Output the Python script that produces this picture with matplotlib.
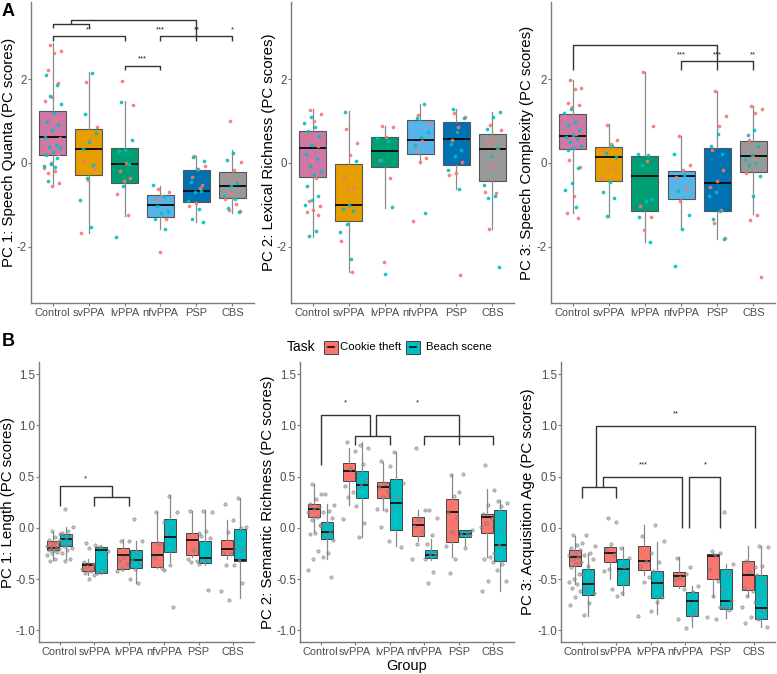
import numpy as np
import matplotlib
matplotlib.use('Agg')
import matplotlib.pyplot as plt
from matplotlib.patches import Rectangle

plt.rcParams['font.family'] = ['Liberation Sans', 'DejaVu Sans']

# ---------------- data ----------------
groups = ['Control', 'svPPA', 'lvPPA', 'nfvPPA', 'PSP', 'CBS']
group_colors = ['#CC79A7', '#E69F00', '#009E73', '#56B4E9', '#0072B2', '#999999']
tasks = ['Cookie theft', 'Beach scene']
task_colors = ['#F8766D', '#00BFC4']

# Row A box stats per group: (whislo, q1, med, q3, whishi)
a1_box = [(-0.56, 0.18, 0.62, 1.25, 2.86), (-1.67, -0.30, 0.34, 0.81, 2.18),
          (-1.27, -0.48, -0.02, 0.36, 1.47), (-1.57, -1.29, -1.00, -0.76, -0.54),
          (-1.41, -0.93, -0.68, -0.17, 0.16), (-1.19, -0.83, -0.55, -0.22, 0.30)]
a1_cookie = [[2.82, 2.67, 2.63, 2.22, 1.91, 1.57, 1.47, 1.05, 0.75, 0.59, 0.45, 0.30, 0.21, 0.0, -0.13, -0.20, -0.24, -0.48, -0.56],
             [1.94, 0.85, 0.55, 0.05, -0.14, -0.41, -1.67],
             [1.95, 1.38, 0.0, -0.20, -0.35, -0.44, -0.75, -1.25],
             [-0.63, -0.70, -0.79, -0.86, -1.35, -2.14],
             [0.17, -0.07, -0.14, -0.33, -0.52, -0.95, -1.03, -0.60],
             [1.01, 0.02, -0.16, -0.32, -0.44, -0.75, -0.86, -0.97, -1.13, -1.15]]
a1_beach = [[2.10, 1.86, 1.61, 1.41, 1.20, 0.99, 0.91, 0.79, 0.63, 0.43, 0.39, 0.36, 0.25, 0.20, 0.12, -0.02, -0.08, -0.10, -0.44],
            [2.16, 1.17, 0.71, 0.51, 0.33, -0.05, -0.35, -0.89, -1.53],
            [1.46, 0.54, 0.32, 0.28, -0.02, -0.56, -1.76],
            [-0.53, -0.78, -1.02, -1.14, -1.20, -1.35, -1.59],
            [0.14, 0.04, -0.14, -0.45, -0.67, -0.70, -0.92, -1.11, -1.35, -1.41],
            [0.24, 0.08, -0.48, -0.56, -0.79, -0.86, -1.07, -1.17]]

a2_box = [(-1.76, -0.33, 0.36, 0.77, 1.29), (-2.62, -1.39, -1.01, -0.03, 1.25),
          (-1.07, -0.09, 0.29, 0.62, 0.89), (0.00, 0.21, 0.54, 1.02, 1.40),
          (-0.63, -0.06, 0.57, 0.97, 1.29), (-1.59, -0.44, 0.33, 0.69, 1.23)]
a2_cookie = [[1.27, 1.17, 1.0, 0.62, 0.40, 0.04, -0.15, -0.35, -0.92, -1.03, -1.12, -1.18, -1.24],
             [0.81, 0.48, 0.20, -0.33, -0.59, -0.63, -1.86, -2.62],
             [0.89, 0.87, 0.63, 0.08, -0.37, -2.36],
             [1.15, 0.95, 0.52, 0.33, 0.12, 0.02, -1.39],
             [1.19, 1.10, 0.87, 0.56, 0.02, -0.24, -0.29, -2.67],
             [0.90, 0.78, 0.56, 0.48, 0.32, -0.04, -0.70, -0.73, -1.57]]
a2_beach = [[1.10, 0.95, 0.85, 0.77, 0.65, 0.43, 0.21, 0.10, -0.08, -0.20, -0.30, -0.56, -0.78, -0.88, -1.0, -1.62, -1.74],
            [1.23, 0.05, -1.01, -1.10, -1.15, -1.47, -1.65, -2.30],
            [0.60, 0.52, 0.06, -1.06, -2.66],
            [1.40, 1.07, 0.73, 0.63, 0.42, -1.19],
            [1.29, 1.07, 0.73, 0.46, 0.30, 0.17, -0.17, -0.62],
            [1.23, 1.11, 0.81, 0.36, 0.16, -0.52, -0.79, -0.83, -2.48]]

a3_box = [(-1.20, 0.33, 0.65, 1.17, 1.98), (-1.29, -0.44, 0.15, 0.38, 0.94),
          (-1.90, -1.14, -0.31, 0.16, 2.18), (-1.57, -0.86, -0.32, -0.19, 0.65),
          (-1.83, -1.15, -0.47, 0.36, 1.71), (-1.23, -0.21, 0.17, 0.52, 1.37)]
a3_cookie = [[1.98, 1.80, 1.76, 1.43, 1.38, 1.35, 1.10, 0.70, 0.06, -0.10, -0.79, -1.19, -1.31],
             [0.91, 0.54, 0.46, 0.30, -0.13, -0.16, -0.36],
             [2.17, 0.89, 0.04, -1.03, -1.29, -1.60],
             [0.65, -0.04, -0.16, -0.33, -0.60, -0.91],
             [1.71, 1.13, 0.89, 0.32, -0.18, -0.44, -0.57, -1.13, -1.44, -1.79],
             [1.37, 1.29, 1.19, 0.55, 0.30, 0.15, -0.25, -1.25, -1.37, -2.74]]
a3_beach = [[1.28, 1.20, 0.99, 0.90, 0.80, 0.67, 0.62, 0.58, 0.50, 0.40, 0.36, 0.30, -0.12, -0.48, -0.65, -1.05],
            [0.40, 0.24, 0.15, -0.46, -0.69, -0.83, -1.27],
            [0.21, 0.19, -0.06, -0.87, -0.91, -1.29, -1.89],
            [0.22, -0.30, -0.67, -1.25, -1.57, -2.46],
            [0.70, 0.40, 0.22, -0.69, -0.79, -1.15, -1.35, -1.83],
            [0.79, 0.67, 0.40, 0.20, 0.10, 0.0, -0.04, -0.32, -0.79]]

# Row B box stats per group and task: (whislo, q1, med, q3, whishi)
b1_box_cookie = [(-0.31, -0.22, -0.20, -0.13, -0.04), (-0.46, -0.42, -0.36, -0.34, -0.30),
                 (-0.41, -0.40, -0.27, -0.20, -0.11), (-0.39, -0.38, -0.27, -0.14, 0.15),
                 (-0.28, -0.27, -0.12, -0.05, 0.16), (-0.30, -0.27, -0.21, -0.12, 0.08)]
b1_box_beach = [(-0.30, -0.18, -0.11, -0.06, 0.01), (-0.45, -0.44, -0.22, -0.19, -0.17),
                (-0.54, -0.39, -0.31, -0.22, -0.13), (-0.33, -0.24, -0.09, 0.09, 0.32),
                (-0.36, -0.34, -0.29, -0.13, 0.17), (-0.69, -0.32, -0.31, -0.01, 0.29)]
b1_pts_cookie = [[-0.03, -0.06, -0.09, -0.12, -0.14, -0.16, -0.18, -0.20, -0.20, -0.21, -0.22, -0.22, -0.24, -0.25, -0.27, -0.30, -0.32],
                 [-0.15, -0.17, -0.20, -0.33, -0.35, -0.37, -0.40, -0.42, -0.44, -0.46, -0.50],
                 [-0.13, -0.13, -0.28, -0.32, -0.35, -0.40, -0.42],
                 [0.15, 0.06, -0.15, -0.28, -0.39],
                 [0.16, -0.05, -0.22, -0.30, -0.32, -0.33],
                 [0.23, 0.08, -0.04, -0.25, -0.26, -0.36, -0.62, -0.70]]
b1_pts_beach = [[0.18, 0.01, -0.03, -0.05, -0.08, -0.10, -0.12, -0.15, -0.18, -0.20, -0.22, -0.25, -0.30, -0.32],
                [-0.19, -0.23, -0.42, -0.44],
                [0.09, -0.13, -0.24, -0.31, -0.33, -0.40, -0.50, -0.54],
                [0.31, 0.15, 0.01, -0.05, -0.22, -0.36, -0.41, -0.77],
                [0.16, 0.15, -0.03, -0.08, -0.10, -0.32, -0.35, -0.61],
                [0.29, 0.01, 0.0, -0.18, -0.21, -0.31, -0.36, -0.54]]

b2_box_cookie = [(-0.04, 0.11, 0.18, 0.235, 0.43), (0.225, 0.46, 0.56, 0.63, 0.78),
                 (0.176, 0.29, 0.40, 0.443, 0.64), (-0.13, -0.075, 0.03, 0.104, 0.176),
                 (-0.28, -0.134, 0.153, 0.28, 0.528), (-0.28, -0.052, 0.11, 0.134, 0.38)]
b2_box_beach = [(-0.30, -0.11, -0.04, 0.055, 0.23), (-0.085, 0.29, 0.42, 0.557, 0.84),
                (-0.176, -0.023, 0.24, 0.48, 0.74), (-0.31, -0.296, -0.264, -0.215, -0.107),
                (-0.176, -0.085, -0.059, -0.02, -0.02), (-0.613, -0.32, -0.166, 0.176, 0.274)]
b2_pts_cookie = [[0.43, 0.33, 0.28, 0.23, 0.20, 0.18, 0.15, 0.11, 0.08, 0.03, -0.05, -0.06, -0.23, -0.30, -0.41],
                 [0.84, 0.75, 0.57, 0.41, 0.35, 0.30, 0.09],
                 [0.65, 0.60, 0.44, 0.40, 0.36, 0.30, 0.18, 0.17, 0.01, -0.13],
                 [0.78, 0.17, 0.09, 0.02, -0.03, -0.16, -0.30],
                 [0.52, 0.35, 0.31, 0.15, 0.10, -0.04, -0.18, -0.30, -0.44],
                 [0.61, 0.37, 0.22, 0.14, 0.10, 0.05, 0.01, -0.28, -0.30, -0.33, -0.52, -0.62]]
b2_pts_beach = [[0.33, 0.22, 0.16, 0.15, 0.10, 0.05, 0.02, -0.04, -0.07, -0.12, -0.25, -0.28, -0.48],
                [0.81, 0.78, 0.62, 0.52, 0.47, 0.42, 0.21, 0.05, -0.09],
                [0.74, 0.44, 0.30, 0.18, -0.19],
                [0.17, 0.10, -0.07, -0.16, -0.26, -0.27, -0.30, -0.43, -0.54],
                [0.53, -0.02, -0.05, -0.06, -0.07, -0.20],
                [0.26, 0.24, 0.21, 0.12, 0.0, -0.17, -0.25, -0.35, -0.41, -0.52]]

b3_box_cookie = [(-0.55, -0.37, -0.285, -0.215, -0.08), (-0.50, -0.333, -0.245, -0.187, -0.18),
                 (-0.46, -0.41, -0.32, -0.18, 0.024), (-0.59, -0.57, -0.47, -0.43, -0.285),
                 (-0.675, -0.50, -0.275, -0.26, -0.25), (-0.67, -0.61, -0.457, -0.327, -0.18)]
b3_box_beach = [(-0.86, -0.66, -0.545, -0.40, -0.25), (-0.66, -0.56, -0.40, -0.30, -0.19),
                (-0.84, -0.69, -0.535, -0.42, -0.14), (-0.97, -0.86, -0.717, -0.626, -0.57),
                (-0.88, -0.795, -0.71, -0.40, -0.35), (-0.97, -0.895, -0.78, -0.46, -0.18)]
b3_pts_cookie = [[-0.07, -0.15, -0.17, -0.20, -0.22, -0.25, -0.27, -0.28, -0.30, -0.33, -0.35, -0.38, -0.45, -0.50, -0.53, -0.55, -0.59, -0.62, -0.68, -0.75],
                 [0.10, 0.06, -0.16, -0.22, -0.26, -0.40, -0.42, -0.60],
                 [-0.08, -0.25, -0.32, -0.37, -0.48, -0.53, -0.86],
                 [-0.29, -0.45, -0.48, -0.50, -0.60, -0.89],
                 [-0.23, -0.25, -0.27, -0.40, -0.52, -0.67, -0.87, -0.89],
                 [-0.32, -0.38, -0.43, -0.59, -0.62, -0.67, -0.77, -0.87, -0.93]]
b3_pts_beach = [[-0.07, -0.18, -0.25, -0.27, -0.30, -0.37, -0.45, -0.51, -0.60, -0.64, -0.73, -0.85],
                [-0.20, -0.29, -0.38, -0.44, -0.50, -0.64, -0.67],
                [0.03, -0.13, -0.33, -0.42, -0.68, -0.72, -0.81],
                [-0.38, -0.57, -0.63, -0.73, -0.81, -0.85, -0.98],
                [0.15, -0.35, -0.45, -0.60, -0.70, -0.76, -0.77, -0.80],
                [-0.18, -0.19, -0.37, -0.46, -0.53, -0.66, -0.72, -0.80, -0.89, -0.97]]

top_ylabels = ['PC 1: Speech Quanta (PC scores)', 'PC 2: Lexical Richness (PC scores)',
               'PC 3: Speech Complexity (PC scores)']
bot_ylabels = ['PC 1: Length (PC scores)', 'PC 2: Semantic Richness (PC scores)',
               'PC 3: Acquisition Age (PC scores)']
top_yticks = [-2, 0, 2]
top_yticklabels = ['-2', '0', '2']
bot_yticks = [-1.0, -0.5, 0.0, 0.5, 1.0, 1.5]
bot_yticklabels = ['-1.0', '-0.5', '0.0', '0.5', '1.0', '1.5']

# significance annotations (polylines in data coords, star labels)
a1_brackets = [[(1, 3.24), (1, 3.33), (2, 3.33), (2, 3.24)],
               [(1.5, 3.33), (1.5, 3.43), (5, 3.43), (5, 2.92)],
               [(1, 2.92), (1, 3.03), (3, 3.03), (3, 2.92)],
               [(4, 2.92), (4, 3.03), (6, 3.03), (6, 2.92)],
               [(3, 2.22), (3, 2.33), (4, 2.33), (4, 2.22)]]
a1_stars = [('**', 2, 3.10), ('***', 4, 3.10), ('**', 5, 3.10), ('*', 6, 3.10), ('***', 3.5, 2.40)]
a3_brackets = [[(1, 2.22), (1, 2.83), (5, 2.83), (5, 2.22)],
               [(4, 2.22), (4, 2.44), (6, 2.44), (6, 2.22)]]
a3_stars = [('***', 4, 2.50), ('***', 5, 2.50), ('**', 6, 2.50)]
b1_brackets = [[(1, 0.21), (1, 0.41), (2.5, 0.41), (2.5, 0.306)],
               [(2, 0.21), (2, 0.306), (3, 0.306), (3, 0.21)]]
b1_stars = [('*', 1.75, 0.44)]
b2_brackets = [[(1, 0.61), (1, 1.105), (2.43, 1.105), (2.43, 0.90)],
               [(2.60, 0.90), (2.60, 1.105), (5, 1.105), (5, 0.81)],
               [(2, 0.81), (2, 0.90), (3, 0.90), (3, 0.81)],
               [(4, 0.81), (4, 0.90), (6, 0.90), (6, 0.81)]]
b2_stars = [('*', 1.72, 1.19), ('*', 3.8, 1.19)]
b3_brackets = [[(1, 0.29), (1, 0.40), (2, 0.40), (2, 0.29)],
               [(1.41, 0.40), (1.41, 0.99), (6.03, 0.99), (6.03, 0.0)],
               [(1.61, 0.40), (1.61, 0.495), (3.9, 0.495), (3.9, 0.0)],
               [(4.12, 0.0), (4.12, 0.495), (5.02, 0.495), (5.02, 0.0)]]
b3_stars = [('**', 3.72, 1.08), ('***', 2.80, 0.58), ('*', 4.57, 0.58)]

# ---------------- drawing ----------------
W, H = 777, 674
fig = plt.figure(figsize=(W / 100, H / 100), dpi=100)


def rect(l, t, r, b):
    return [l / W, 1 - b / H, (r - l) / W, (b - t) / H]


def jitter(n, width):
    k = np.arange(n)
    return (((k * 0.6180339887 + 0.37) % 1.0) - 0.5) * 2 * width


def style_axes(ax, yticks, yticklabels, ylim):
    ax.set_xlim(0.4, 6.6)
    ax.set_ylim(*ylim)
    for s in ['top', 'right']:
        ax.spines[s].set_visible(False)
    for s in ['left', 'bottom']:
        ax.spines[s].set_color('#7a7a7a')
        ax.spines[s].set_linewidth(1.0)
    ax.set_xticks(range(1, 7))
    ax.set_xticklabels(groups)
    ax.set_yticks(yticks)
    ax.set_yticklabels(yticklabels)
    ax.tick_params(axis='both', length=2.0, width=0.8, color='#7a7a7a',
                   labelcolor='#4d4d4d', labelsize=7.9, pad=1.5)
    ax.tick_params(axis='y', labelsize=8.3, pad=0.8)


def stats_list(box):
    return [dict(whislo=b[0], q1=b[1], med=b[2], q3=b[3], whishi=b[4], fliers=[]) for b in box]


def draw_brackets(ax, brackets, stars):
    for pl in brackets:
        xs = [p[0] for p in pl]
        ys = [p[1] for p in pl]
        ax.plot(xs, ys, color='#333333', lw=1.0, zorder=5, solid_capstyle='butt')
    for txt, x, y in stars:
        ax.text(x, y, txt, ha='center', va='bottom', fontsize=5.5, color='#222222', zorder=6)


top_rects = [rect(31, 2, 254, 303), rect(291, 2, 514, 303), rect(551, 2, 775, 303)]
bot_rects = [rect(39, 362, 254, 642), rect(300, 362, 514, 642), rect(561, 362, 775, 642)]
top_label_x = [9, 269, 527]
bot_label_x = [8, 268, 528]

top_data = [(a1_box, a1_cookie, a1_beach, a1_brackets, a1_stars),
            (a2_box, a2_cookie, a2_beach, [], []),
            (a3_box, a3_cookie, a3_beach, a3_brackets, a3_stars)]

for i, (box, ck, bc, brs, sts) in enumerate(top_data):
    ax = fig.add_axes(top_rects[i])
    bp = ax.bxp(stats_list(box), positions=range(1, 7), widths=0.75, patch_artist=True,
                showcaps=False, showfliers=False,
                boxprops=dict(edgecolor='#555555', linewidth=0.8),
                whiskerprops=dict(color='#8a8a8a', linewidth=0.9),
                medianprops=dict(color='#111111', linewidth=1.4))
    for patch, c in zip(bp['boxes'], group_colors):
        patch.set_facecolor(c)
    for g in range(6):
        allv = [(v, 0) for v in ck[g]] + [(v, 1) for v in bc[g]]
        jx = jitter(len(allv), 0.24)
        for (v, t), dx in zip(allv, jx):
            ax.scatter(g + 1 + dx, v, s=7, color=task_colors[t], alpha=0.9,
                       linewidths=0, zorder=4)
    style_axes(ax, top_yticks, top_yticklabels, (-3.35, 3.85))
    draw_brackets(ax, brs, sts)
    fig.text(top_label_x[i] / W, 1 - 152.5 / H, top_ylabels[i], rotation=90,
             ha='center', va='center', fontsize=10.8, color='black')

bot_data = [(b1_box_cookie, b1_box_beach, b1_pts_cookie, b1_pts_beach, b1_brackets, b1_stars),
            (b2_box_cookie, b2_box_beach, b2_pts_cookie, b2_pts_beach, b2_brackets, b2_stars),
            (b3_box_cookie, b3_box_beach, b3_pts_cookie, b3_pts_beach, b3_brackets, b3_stars)]

for i, (bxc, bxb, pc, pb, brs, sts) in enumerate(bot_data):
    ax = fig.add_axes(bot_rects[i])
    for t, (box, pts) in enumerate([(bxc, pc), (bxb, pb)]):
        off = -0.1875 if t == 0 else 0.1875
        pos = [g + 1 + off for g in range(6)]
        bp = ax.bxp(stats_list(box), positions=pos, widths=0.35, patch_artist=True,
                    showcaps=False, showfliers=False,
                    boxprops=dict(edgecolor='#444444', linewidth=0.7),
                    whiskerprops=dict(color='#8a8a8a', linewidth=0.9),
                    medianprops=dict(color='#111111', linewidth=1.3))
        for patch in bp['boxes']:
            patch.set_facecolor(task_colors[t])
        for g in range(6):
            jx = jitter(len(pts[g]), 0.2)
            ax.scatter(pos[g] + jx, pts[g], s=6, facecolor='#9a9a9a', edgecolor='#555555',
                       linewidths=0.4, alpha=0.6, zorder=4)
    style_axes(ax, bot_yticks, bot_yticklabels, (-1.115, 1.62))
    draw_brackets(ax, brs, sts)
    fig.text(bot_label_x[i] / W, 1 - 502 / H, bot_ylabels[i], rotation=90,
             ha='center', va='center', fontsize=10.8, color='black')

# x label of bottom row
fig.text(407 / W, 1 - 666 / H, 'Group', ha='center', va='center', fontsize=10.5)

# panel letters
fig.text(2 / W, 1 - 11 / H, 'A', ha='left', va='center', fontsize=13, fontweight='bold')
fig.text(2 / W, 1 - 341 / H, 'B', ha='left', va='center', fontsize=13, fontweight='bold')

# legend (Task)
ly = 1 - 347 / H
fig.text(287 / W, ly, 'Task', ha='left', va='center', fontsize=10)
for (x0, lab_x), c, lab in zip([(324, 340), (406, 426)], task_colors, tasks):
    fig.patches.append(Rectangle((x0 / W, 1 - 353.5 / H), 13.5 / W, 13 / H,
                                 transform=fig.transFigure, facecolor=c,
                                 edgecolor='#444444', linewidth=0.7))
    fig.lines.append(plt.Line2D([(x0 + 4) / W, (x0 + 9.5) / W], [ly, ly],
                                transform=fig.transFigure, color='#111111', lw=1.2))
    fig.text(lab_x / W, ly, lab, ha='left', va='center', fontsize=8.2)

fig.savefig('out.png', dpi=100)
